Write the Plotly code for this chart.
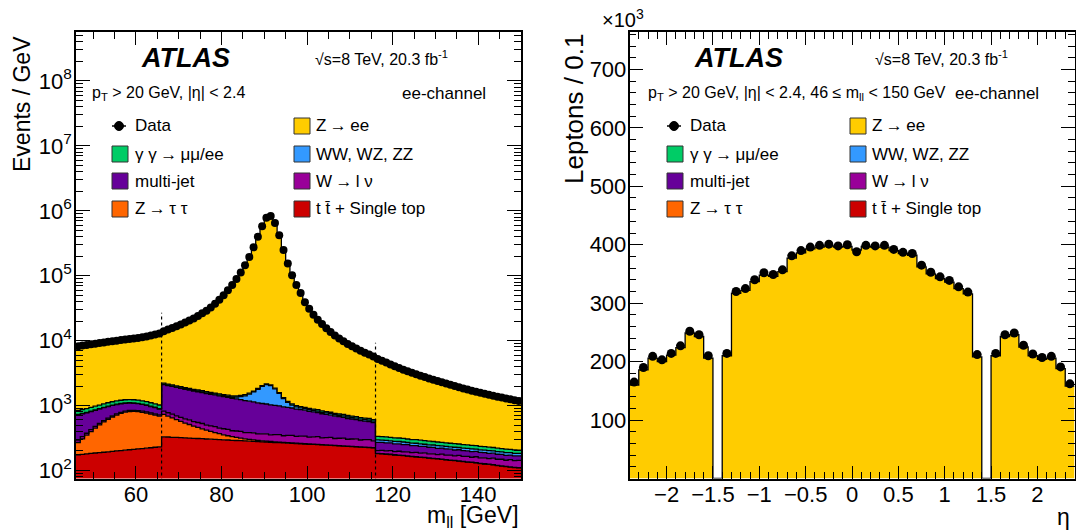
import numpy as np
import plotly.graph_objects as go

W, H = 1076, 532

# ---------------- left panel data (events / GeV, 1 GeV bins 46-150) ----------------
mll_edges = list(range(46, 151))

data_mll = [8200,8400,8600,8800,9000,9200,9400,9600,9800,10000,10200,10400,10600,10800,11000,11300,11600,12000,12400,12900,
            14000,14800,15700,16700,17800,19000,20500,22000,24000,26500,29000,32500,37000,42500,50000,60000,72000,89000,112000,145000,
            195000,275000,400000,580000,780000,830000,650000,420000,250000,155000,102000,72000,54000,39000,31000,25000,21000,18000,15500,13600,
            12000,10800,9800,8900,8200,7600,7000,6500,6100,5700,
            5200,4900,4600,4300,4050,3800,3580,3380,3200,3040,2890,2750,2620,2500,2390,2280,2180,2090,2000,1920,
            1840,1770,1700,1640,1580,1520,1470,1420,1370,1330,1290,1250,1210,1180]

ttbar = [175,177,180,183,186,189,191,194,197,200,203,206,209,212,215,218,221,224,228,232,
         330,328,325,323,320,318,316,313,311,309,306,304,302,299,297,295,292,290,288,286,283,281,279,277,275,272,270,268,266,264,
         262,260,258,256,254,252,250,248,246,244,242,240,238,236,234,232,230,228,226,224,
         182,180,178,176,173,171,169,167,164,162,160,158,155,153,151,149,146,144,142,140,137,135,133,131,128,126,124,122,119,117,115,113,111,110]

ztautau = [95,130,170,215,265,315,370,420,470,515,555,585,600,600,590,570,545,515,485,455,
           400,360,320,285,250,220,195,170,150,130,112,96,82,70,58,48,40,33,27,22,18,15,12,10,9,8,7,6,5,5,
           4,4,4,3,3,3,3,2,2,2,2,2,2,2,2,2,1,1,1,1,
           2,2,2,2,2,2,2,1,1,1,1,1,1,1,1,1,1,1,1,1,1,1,1,1,1,1,1,1,1,1,1,1,1,1]

wlnu = [24,26,25,27,26,28,27,29,28,30,29,30,31,30,32,31,33,32,34,33,
        92,88,95,85,90,87,93,84,88,91,82,86,89,80,85,88,78,83,86,76,82,85,75,80,84,74,79,83,72,78,
        82,71,76,80,70,75,79,68,73,77,67,72,76,65,70,74,64,69,72,62,
        18,22,20,24,21,25,22,26,23,27,24,28,25,27,24,29,26,28,25,30,27,29,26,31,28,30,27,32,29,31,28,33,30,32]

multijet = [430,415,400,385,370,355,340,325,310,295,280,265,255,245,235,225,210,195,180,165,
            1285,1260,1235,1210,1185,1160,1135,1110,1085,1060,1035,1010,985,960,935,910,885,860,835,810,
            785,760,735,710,690,670,650,630,610,590,570,550,530,510,490,470,450,430,410,390,375,360,345,330,315,300,290,280,270,260,
            70,68,66,64,62,60,58,56,54,52,50,48,47,46,44,43,42,40,39,38,37,36,35,34,33,32,31,30,29,28,27,26,26,25]

diboson = [10,11,10,12,11,10,12,11,13,12,11,13,12,14,13,12,14,13,15,14,
           35,34,36,33,35,34,36,35,37,36,38,37,39,40,42,45,
           50,90,140,220,330,480,680,900,1050,1000,800,550,330,180,100,70,55,
           48,45,43,42,40,39,38,37,36,35,34,33,33,32,31,30,30,
           24,22,25,21,23,22,24,20,22,21,23,19,21,20,22,18,20,19,21,17,19,18,20,16,18,17,19,15,17,16,18,15,16,15]

gamgam = [110,112,115,117,120,122,124,126,128,130,130,131,131,130,130,129,128,126,124,122,
          75,74,73,72,71,70,69,68,67,66,65,64,63,62,61,60,59,58,57,56,55,54,53,52,51,50,49,48,47,46,
          45,44,43,42,41,40,40,39,39,38,38,37,37,36,36,35,35,34,34,33,
          40,39,39,38,38,37,37,36,36,35,35,34,34,33,33,32,32,31,31,30,30,29,29,28,28,27,27,26,26,25,25,24,24,23]

zee = [7350,7530,7710,7890,8070,8250,8430,8610,8790,8970,9160,9350,9540,9740,9940,10250,10560,10980,11390,11910,
       11800,12650,13600,14650,15800,17050,18600,20150,22200,24750,27300,30850,35400,40940,48480,58500,70500,87450,110400,143300,
       193200,273050,397900,577700,777550,827650,647900,418200,248450,153620,100720,70770,52800,37830,29850,23880,19910,16940,14470,12600,
       11030,9860,8890,8020,7350,6780,6210,5740,5380,5010,
       4860,4564,4268,3972,3726,3480,3264,3068,2892,2736,2590,2454,2328,2212,2106,2000,1904,1818,1732,1656,
       1580,1514,1448,1392,1336,1280,1234,1188,1142,1106,1070,1034,998,972]

sample_boundaries = [66, 116]
boundary_tops = [27000, 9300]

# ---------------- right panel data (leptons / 0.1, x10^3) ----------------
eta_edges = [round(-2.4 + 0.1 * i, 1) for i in range(49)]
data_eta = [165,190,209,203,214,227,252,246,210,
            None,
            214,320,325,340,352,349,357,381,390,396,399,401,398,400,388,399,398,399,392,387,385,365,353,345,339,328,319,212,
            None,
            214,246,249,228,213,207,209,191,162]
mc_eta = [160,186,206,200,211,224,249,243,206,
          0,
          210,317,322,337,348,346,354,377,386,393,396,398,396,397,391,397,396,396,390,385,382,362,350,342,336,325,316,208,
          0,
          210,243,246,225,210,204,206,188,158]

for arr in (data_mll, ttbar, ztautau, wlnu, multijet, diboson, gamgam, zee):
    assert len(arr) == 104, len(arr)
assert len(data_eta) == 48 and len(mc_eta) == 48

# ---------------- colours ----------------
C_ZEE = "#FFCC00"
C_DIB = "#3399FF"
C_GG = "#00CC66"
C_MJ = "#660099"
C_W = "#990099"
C_ZTT = "#FF6600"
C_TT = "#CC0000"

FONT = "Liberation Sans, Arial, Helvetica, sans-serif"

fig = go.Figure()


def step(edges, vals):
    return list(edges), list(vals) + [vals[-1]]


# baseline below the visible range for the stack fills
bx, by = step(mll_edges, [1] * 104)
fig.add_trace(go.Scatter(x=bx, y=by, mode="lines", line=dict(width=0, shape="hv"),
                         showlegend=False, hoverinfo="skip", xaxis="x", yaxis="y"))

stack = [(ttbar, C_TT), (ztautau, C_ZTT), (wlnu, C_W), (multijet, C_MJ),
         (diboson, C_DIB), (gamgam, C_GG), (zee, C_ZEE)]
cum = np.zeros(104)
for vals, col in stack:
    cum = cum + np.array(vals, dtype=float)
    sx, sy = step(mll_edges, cum.tolist())
    fig.add_trace(go.Scatter(x=sx, y=sy, mode="lines", fill="tonexty", fillcolor=col,
                             line=dict(color="black", width=1.3, shape="hv"),
                             showlegend=False, hoverinfo="skip", xaxis="x", yaxis="y"))

for xb, top in zip(sample_boundaries, boundary_tops):
    fig.add_trace(go.Scatter(x=[xb, xb], y=[10, top], mode="lines",
                             line=dict(color="black", width=1.2, dash="3px,3px"),
                             showlegend=False, hoverinfo="skip", xaxis="x", yaxis="y"))

centers = [(a + b) / 2 for a, b in zip(mll_edges[:-1], mll_edges[1:])]
fig.add_trace(go.Scatter(x=centers, y=data_mll, mode="markers",
                         marker=dict(color="black", size=8),
                         showlegend=False, hoverinfo="skip", xaxis="x", yaxis="y"))

# right panel
ex, ey = step(eta_edges, mc_eta)
fig.add_trace(go.Scatter(x=ex, y=ey, mode="lines", fill="tozeroy", fillcolor=C_ZEE,
                         line=dict(color="black", width=1.3, shape="hv"),
                         showlegend=False, hoverinfo="skip", xaxis="x2", yaxis="y2"))
eta_c = [round((a + b) / 2, 2) for a, b in zip(eta_edges[:-1], eta_edges[1:])]
fig.add_trace(go.Scatter(x=eta_c, y=data_eta, mode="markers",
                         marker=dict(color="black", size=9),
                         showlegend=False, hoverinfo="skip", xaxis="x2", yaxis="y2"))

# ---------------- axes ----------------
ydom = [1 - 478.5 / H, 1 - 32 / H]
common = dict(showline=True, linecolor="black", linewidth=1.5, mirror="ticks", ticks="inside",
              tickcolor="black", tickwidth=1.2, showgrid=False, zeroline=False,
              tickfont=dict(size=22, family=FONT, color="black"))

log_minor = [k * 10 ** d for d in range(1, 9) for k in range(2, 10)]

fig.update_layout(
    width=W, height=H, margin=dict(l=0, r=0, t=0, b=0, autoexpand=False),
    paper_bgcolor="white", plot_bgcolor="white",
    font=dict(family=FONT, color="black"),
    xaxis=dict(domain=[76 / W, 521 / W], range=[46, 150], anchor="y",
               tickvals=[60, 80, 100, 120, 140], ticklen=13, ticklabelstandoff=-5,
               minor=dict(dtick=5, tick0=0, ticks="inside", ticklen=7, tickcolor="black", tickwidth=1.2),
               **common),
    yaxis=dict(domain=ydom, type="log", range=[1.877, 8.754], anchor="x",
               tickvals=[1e2, 1e3, 1e4, 1e5, 1e6, 1e7, 1e8],
               ticktext=["10<sup>%d</sup>" % d for d in range(2, 9)], ticklen=14, ticklabelstandoff=-2,
               minor=dict(tickmode="array", tickvals=log_minor, ticks="inside", ticklen=7,
                          tickcolor="black", tickwidth=1.2),
               **common),
    xaxis2=dict(domain=[629.5 / W, 1074.5 / W], range=[-2.4, 2.4], anchor="y2",
                tickvals=[-2, -1.5, -1, -0.5, 0, 0.5, 1, 1.5, 2], ticklen=13, ticklabelstandoff=-5,
                minor=dict(dtick=0.1, tick0=0, ticks="inside", ticklen=7, tickcolor="black", tickwidth=1.2),
                **common),
    yaxis2=dict(domain=ydom, range=[0, 764], anchor="x2",
                tickvals=[100, 200, 300, 400, 500, 600, 700], ticklen=14, ticklabelstandoff=-3,
                minor=dict(dtick=20, tick0=0, ticks="inside", ticklen=7, tickcolor="black", tickwidth=1.2),
                **common),
)


def P(x, y):
    return x / W, 1 - y / H


ann = []


def text(x, y, s, size=16, xanchor="left", yanchor="middle", angle=0, bold_italic=False):
    px, py = P(x, y)
    t = s
    if bold_italic:
        t = "<b><i>%s</i></b>" % s
    ann.append(dict(x=px, y=py, xref="paper", yref="paper", text=t, showarrow=False,
                    xanchor=xanchor, yanchor=yanchor, textangle=angle,
                    font=dict(size=size, family=FONT, color="black")))


shapes = []


def box(x, y, col, s=16):
    x0, y0 = P(x, y - s / 2)
    x1, y1 = P(x + s, y + s / 2)
    shapes.append(dict(type="rect", xref="paper", yref="paper", x0=x0, y0=y1, x1=x1, y1=y0,
                       fillcolor=col, line=dict(color="#333333", width=1)))


def data_marker(x, y):
    a, b = P(x - 7, y)
    c, d = P(x + 7, y)
    shapes.append(dict(type="line", xref="paper", yref="paper", x0=a, y0=b, x1=c, y1=d,
                       line=dict(color="black", width=1.5)))
    r = 4.5
    a, b = P(x - r, y - r)
    c, d = P(x + r, y + r)
    shapes.append(dict(type="circle", xref="paper", yref="paper", x0=a, y0=d, x1=c, y1=b,
                       fillcolor="black", line=dict(color="black", width=1)))


ARROW = "\u2009→\u2009"


def legend(xl, xr, rows):
    data_marker(xl + 7, rows[0])
    text(xl + 21, rows[0], "Data", 17)
    left = [("γ γ" + ARROW + "μμ/ee", C_GG), ("multi-jet", C_MJ), ("Z" + ARROW + "τ τ", C_ZTT)]
    for (lab, col), yy in zip(left, rows[1:]):
        box(xl, yy, col)
        text(xl + 21, yy, lab, 17)
    right = [("Z" + ARROW + "ee", C_ZEE), ("WW, WZ, ZZ", C_DIB), ("W" + ARROW + "l ν", C_W),
             ("t t̄ + Single top", C_TT)]
    for (lab, col), yy in zip(right, rows):
        box(xr, yy, col)
        text(xr + 20, yy, lab, 17)


rows = [126, 154, 181, 209]

# left panel texts
text(139, 58, "ATLAS", 27, bold_italic=True)
text(313, 58, "√s=8 TeV, 20.3 fb<sup>-1</sup>", 16)
text(90, 94, "p<sub>T</sub> > 20 GeV, |η| < 2.4", 16)
text(488, 94, "ee-channel", 17, xanchor="right")
legend(112, 294, rows)

# right panel texts
text(692, 58, "ATLAS", 27, bold_italic=True)
text(873, 58, "√s=8 TeV, 20.3 fb<sup>-1</sup>", 16)
text(646, 94, "p<sub>T</sub> > 20 GeV, |η| < 2.4, 46 ≤ m<sub>ll</sub> < 150 GeV", 16)
text(1041, 94, "ee-channel", 17, xanchor="right")
legend(667, 850, rows)

# axis titles
text(22, 34, "Events / GeV", 23, xanchor="center", yanchor="top", angle=-90)
text(521, 516, "m<sub>ll</sub> [GeV]", 23, xanchor="right")
text(574, 32, "Leptons / 0.1", 26, xanchor="center", yanchor="top", angle=-90)
text(1072, 517, "η", 23, xanchor="right")
text(600, 18, "×10<sup>3</sup>", 20)

fig.update_layout(annotations=ann, shapes=shapes)
fig.write_html("out.html", config={"displayModeBar": False},
               post_script="document.body.style.margin='0px';document.body.style.overflow='hidden';")
